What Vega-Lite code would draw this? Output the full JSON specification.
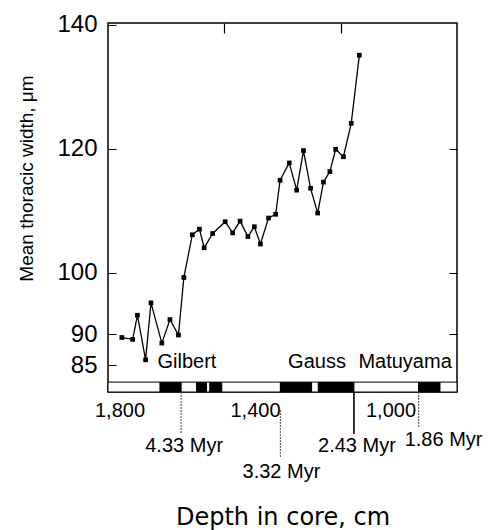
{
  "$schema": "https://vega.github.io/schema/vega-lite/v6.json",
  "width": 349,
  "height": 369,
  "autosize": "none",
  "padding": {"left": 108, "top": 23, "right": 33, "bottom": 138},
  "background": "white",
  "config": {
    "view": {"stroke": "black", "strokeWidth": 1.5},
    "axis": {"domain": false, "grid": false, "labelColor": "black", "tickColor": "black", "titleColor": "black", "labelFont": "Liberation Sans", "titleFont": "Liberation Sans", "titleFontWeight": "normal", "labelFlush": false, "labelOverlap": false},
    "text": {"font": "Liberation Sans", "color": "black"}
  },
  "datasets": {
    "cores": [
      {"depth": 1793, "width": 89.5}, {"depth": 1761, "width": 89.2}, {"depth": 1747, "width": 93.1},
      {"depth": 1723, "width": 85.9}, {"depth": 1707, "width": 95.1}, {"depth": 1675, "width": 88.6},
      {"depth": 1651, "width": 92.4}, {"depth": 1626, "width": 89.9}, {"depth": 1610, "width": 99.2},
      {"depth": 1585, "width": 106.1}, {"depth": 1564, "width": 107.0}, {"depth": 1550, "width": 104.0},
      {"depth": 1525, "width": 106.3}, {"depth": 1488, "width": 108.2}, {"depth": 1466, "width": 106.4},
      {"depth": 1444, "width": 108.3}, {"depth": 1421, "width": 105.8}, {"depth": 1402, "width": 107.4},
      {"depth": 1384, "width": 104.6}, {"depth": 1360, "width": 108.8}, {"depth": 1339, "width": 109.4},
      {"depth": 1326, "width": 114.9}, {"depth": 1299, "width": 117.7}, {"depth": 1277, "width": 113.3},
      {"depth": 1257, "width": 119.7}, {"depth": 1236, "width": 113.6}, {"depth": 1215, "width": 109.6},
      {"depth": 1198, "width": 114.6}, {"depth": 1179, "width": 116.3}, {"depth": 1162, "width": 119.9},
      {"depth": 1139, "width": 118.7}, {"depth": 1116, "width": 124.1}, {"depth": 1092, "width": 135.1}
    ],
    "chrons": [
      {"start": 1833.9, "end": 1680, "polarity": "reversed"},
      {"start": 1680, "end": 1618, "polarity": "normal"},
      {"start": 1618, "end": 1572, "polarity": "reversed"},
      {"start": 1572, "end": 1543, "polarity": "normal"},
      {"start": 1543, "end": 1533, "polarity": "reversed"},
      {"start": 1533, "end": 1498, "polarity": "normal"},
      {"start": 1498, "end": 1325, "polarity": "reversed"},
      {"start": 1325, "end": 1233, "polarity": "normal"},
      {"start": 1233, "end": 1213, "polarity": "reversed"},
      {"start": 1213, "end": 1108, "polarity": "normal"},
      {"start": 1108, "end": 917, "polarity": "reversed"},
      {"start": 917, "end": 854, "polarity": "normal"},
      {"start": 854, "end": 803.8, "polarity": "reversed"}
    ],
    "names": [
      {"chron": "Gilbert", "depth": 1601},
      {"chron": "Gauss", "depth": 1217},
      {"chron": "Matuyama", "depth": 957}
    ],
    "ages": [
      {"age": "4.33 Myr", "depth": 1618, "tier": "upper"},
      {"age": "3.32 Myr", "depth": 1325, "tier": "lower"},
      {"age": "2.43 Myr", "depth": 1108, "tier": "upper"},
      {"age": "1.86 Myr", "depth": 917, "tier": "right"}
    ]
  },
  "layer": [
    {
      "data": {"name": "chrons"},
      "mark": {"type": "rect", "stroke": "black", "strokeWidth": 1},
      "encoding": {
        "x": {"field": "start", "type": "quantitative", "scale": {"domain": [803.8, 1833.9], "reverse": true, "nice": false, "zero": false}, "axis": null},
        "x2": {"field": "end"},
        "y": {"datum": 80.7, "type": "quantitative", "scale": {"domain": [80.7, 140.3], "nice": false, "zero": false}, "axis": null},
        "y2": {"datum": 82.3},
        "fill": {"field": "polarity", "type": "nominal", "scale": {"domain": ["normal", "reversed"], "range": ["black", "white"]}, "legend": null}
      }
    },
    {
      "data": {"name": "cores"},
      "mark": {"type": "line", "color": "black", "strokeWidth": 1.3},
      "encoding": {
        "x": {"field": "depth", "type": "quantitative", "scale": {"domain": [803.8, 1833.9], "reverse": true, "nice": false, "zero": false},
          "axis": {"orient": "bottom", "values": [1800, 1400, 1000], "format": ",.0f", "ticks": false, "labelFontSize": 20, "labelPadding": 8,
            "title": "Depth in core, cm", "titleFont": "DejaVu Sans", "titleFontSize": 24, "titleY": 113, "titleBaseline": "top"}},
        "y": {"field": "width", "type": "quantitative", "scale": {"domain": [80.7, 140.3], "nice": false, "zero": false},
          "axis": {"orient": "left", "values": [85, 90, 100, 120, 140], "ticks": true, "tickSize": -8, "tickWidth": 1, "labelFontSize": 24, "labelPadding": 19,
            "title": "Mean thoracic width, μm", "titleFont": "Liberation Sans", "titleFontSize": 19, "titlePadding": 20, "titleY": 155}}
      }
    },
    {
      "data": {"name": "cores"},
      "mark": {"type": "point", "shape": "square", "filled": true, "color": "black", "size": 22, "opacity": 1},
      "encoding": {
        "x": {"field": "depth", "type": "quantitative", "scale": {"domain": [803.8, 1833.9], "reverse": true, "nice": false, "zero": false},
          "axis": {"orient": "top", "values": [1492, 1146], "labels": false, "ticks": true, "tickSize": -10, "tickWidth": 1.2, "title": null}},
        "y": {"field": "width", "type": "quantitative", "scale": {"domain": [80.7, 140.3], "nice": false, "zero": false},
          "axis": {"orient": "right", "values": [90, 100, 120], "labels": false, "ticks": true, "tickSize": -8, "tickWidth": 1, "title": null}}
      }
    },
    {
      "data": {"name": "names"},
      "mark": {"type": "text", "fontSize": 20, "align": "center", "baseline": "alphabetic"},
      "encoding": {
        "x": {"field": "depth", "type": "quantitative", "axis": null},
        "y": {"datum": 84.6, "type": "quantitative", "axis": null},
        "text": {"field": "chron"}
      }
    },
    {
      "data": {"name": "ages"},
      "transform": [{"filter": "datum.tier === 'upper'"}],
      "mark": {"type": "rule"},
      "encoding": {
        "x": {"field": "depth", "type": "quantitative", "axis": null},
        "y": {"datum": 80.7, "type": "quantitative", "axis": null},
        "y2": {"datum": 73.9},
        "color": {"condition": {"test": "datum.age === '2.43 Myr'", "value": "black"}, "value": "#666666"},
        "strokeWidth": {"condition": {"test": "datum.age === '2.43 Myr'", "value": 1.6}, "value": 1.2},
        "strokeDash": {"condition": {"test": "datum.age === '2.43 Myr'", "value": [1, 0]}, "value": [2, 1]}
      }
    },
    {
      "data": {"name": "ages"},
      "transform": [{"filter": "datum.tier === 'lower'"}],
      "mark": {"type": "rule", "color": "#666666", "strokeWidth": 1.2, "strokeDash": [2, 1]},
      "encoding": {
        "x": {"field": "depth", "type": "quantitative", "axis": null},
        "y": {"datum": 77.8, "type": "quantitative", "axis": null},
        "y2": {"datum": 70.2}
      }
    },
    {
      "data": {"name": "ages"},
      "transform": [{"filter": "datum.tier === 'right'"}],
      "mark": {"type": "rule", "color": "#666666", "strokeWidth": 1.2, "strokeDash": [2, 1]},
      "encoding": {
        "x": {"field": "depth", "type": "quantitative", "axis": null},
        "y": {"datum": 80.7, "type": "quantitative", "axis": null},
        "y2": {"datum": 75.0}
      }
    },
    {
      "data": {"name": "ages"},
      "transform": [{"filter": "datum.tier === 'upper'"}],
      "mark": {"type": "text", "fontSize": 20, "align": "center", "baseline": "alphabetic", "dx": 3},
      "encoding": {
        "x": {"field": "depth", "type": "quantitative", "axis": null},
        "y": {"datum": 71.0, "type": "quantitative", "axis": null},
        "text": {"field": "age"}
      }
    },
    {
      "data": {"name": "ages"},
      "transform": [{"filter": "datum.tier === 'lower'"}],
      "mark": {"type": "text", "fontSize": 20, "align": "center", "baseline": "alphabetic", "dx": 1},
      "encoding": {
        "x": {"field": "depth", "type": "quantitative", "axis": null},
        "y": {"datum": 66.8, "type": "quantitative", "axis": null},
        "text": {"field": "age"}
      }
    },
    {
      "data": {"name": "ages"},
      "transform": [{"filter": "datum.tier === 'right'"}],
      "mark": {"type": "text", "fontSize": 20, "align": "left", "baseline": "alphabetic", "dx": -14},
      "encoding": {
        "x": {"field": "depth", "type": "quantitative", "axis": null},
        "y": {"datum": 72.0, "type": "quantitative", "axis": null},
        "text": {"field": "age"}
      }
    }
  ],
  "resolve": {"axis": {"x": "independent", "y": "independent"}}
}
